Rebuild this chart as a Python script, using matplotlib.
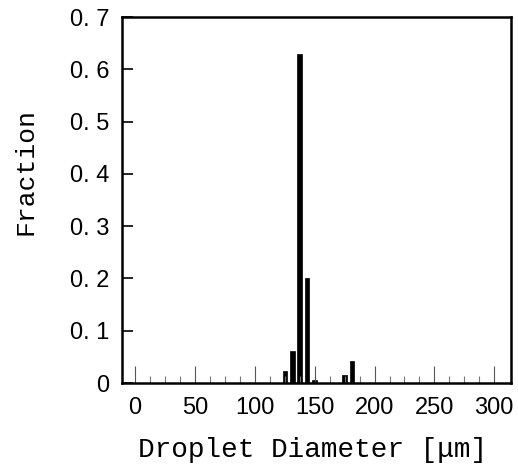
import matplotlib

matplotlib.use("Agg")
import matplotlib.pyplot as plt
from matplotlib import font_manager
from matplotlib.ticker import FixedLocator, FuncFormatter

# droplet size histogram
diameters = [125.0, 131.25, 137.5, 143.75, 150.0, 175.0, 181.25]
fractions = [0.023, 0.062, 0.63, 0.20, 0.005, 0.015, 0.042]

x_major = [0, 50, 100, 150, 200, 250, 300]
x_minor = [i * 12.5 for i in range(25)]
y_ticks = [0, 0.1, 0.2, 0.3, 0.4, 0.5, 0.6, 0.7]


def pick_font(names):
    for name in names:
        try:
            font_manager.findfont(name, fallback_to_default=False)
            return name
        except Exception:
            continue
    return "DejaVu Sans"


sans = pick_font(["Liberation Sans", "DejaVu Sans"])
mono = pick_font(["Liberation Mono", "DejaVu Sans Mono"])

fig = plt.figure(figsize=(5.18, 4.70), dpi=100)
ax = fig.add_axes([0.2355, 0.1851, 0.7510, 0.7787])

ax.bar(diameters, fractions, width=3.8, color="black", edgecolor="black", linewidth=0.5)

ax.set_xlim(-11, 314)
ax.set_ylim(0, 0.7)

for s in ax.spines.values():
    s.set_linewidth(1.8)
    s.set_color("black")

ax.xaxis.set_major_locator(FixedLocator(x_major))
ax.xaxis.set_minor_locator(FixedLocator([v for v in x_minor if v not in x_major]))
ax.yaxis.set_major_locator(FixedLocator(y_ticks))
ax.yaxis.set_major_formatter(FuncFormatter(lambda v, p: "0" if v == 0 else f"0. {round(v * 10):d}"))

ax.tick_params(axis="x", which="major", direction="in", length=12, width=0.8,
               color="#555555", pad=10, labelsize=17)
ax.tick_params(axis="x", which="minor", direction="in", length=5, width=0.8, color="#777777")
ax.tick_params(axis="y", direction="in", length=8, width=1.2, color="black",
               pad=9, labelsize=17)

for lab in ax.get_xticklabels() + ax.get_yticklabels():
    lab.set_fontfamily(sans)

ax.set_xlabel("Droplet Diameter [\u03bcm]", fontsize=20, family=mono)
ax.set_ylabel("Fraction", fontsize=19, family=mono)
ax.xaxis.set_label_coords(0.491, -0.148)
ax.yaxis.set_label_coords(-0.218, 0.577)

fig.savefig("out.png", dpi=100)
